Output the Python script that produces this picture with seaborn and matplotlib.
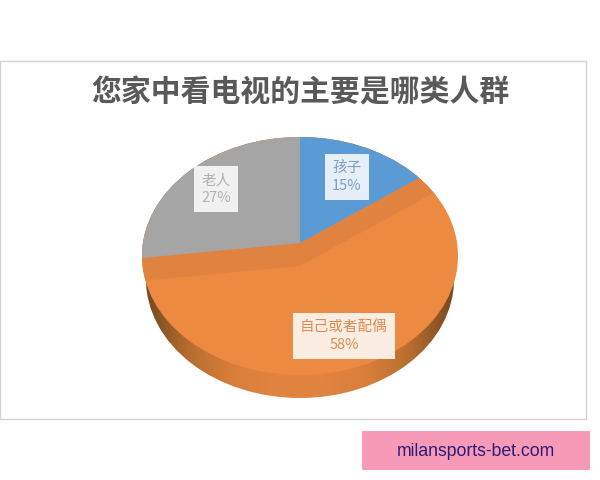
import numpy as np
import seaborn as sns
import matplotlib.pyplot as plt
from matplotlib.colors import LinearSegmentedColormap
from matplotlib.patches import Rectangle, Circle, Ellipse

sns.set_theme(style='white')
plt.rcParams['font.family'] = ['Noto Sans CJK SC', 'DejaVu Sans']

title = '您家中看电视的主要是哪类人群'
labels = ['孩子', '自己或者配偶', '老人']
shares = [15, 58, 27]
colors = ['#5b9bd5', '#ed8a42', '#a5a5a5']
text_colors = ['#7f9fc4', '#dd8d52', '#b0b0b0']
watermark = 'milansports-bet.com'

fig = plt.figure(figsize=(6, 4.8), dpi=100)

# background: chart frame and watermark box, in pixel coordinates
bg = fig.add_axes([0, 0, 1, 1], zorder=0)
bg.set_xlim(0, 600)
bg.set_ylim(480, 0)
bg.axis('off')
bg.add_patch(Rectangle((0, 61), 586, 358, fc='white', ec='#d4d4d4', lw=1))
bg.add_patch(Rectangle((362, 431), 228, 39, fc='#f79ab8', ec='none'))
bg.text(476, 451, watermark, ha='center', va='center', fontsize=12.7,
        color='#2c1c78', family='Liberation Sans')
bg.text(300, 92, title, ha='center', va='center', fontsize=21.5,
        color='#595959', fontweight='bold')

# pie axes: one unit is 158 px across and 119 px down, so the circle looks tilted
cx, cy, rx, ry = 300, 256, 158, 119
depth = 23 / ry
ax = fig.add_axes([0, 0, 1, 1], zorder=1)
ax.patch.set_visible(False)
face = Circle((0, 0), 1, transform=ax.transData)
rim_clip = Ellipse((0, -depth), 1.95, 2, transform=ax.transData)

# side wall, dark only towards both ends
rim_cmap = LinearSegmentedColormap.from_list(
    'rim', ['#6f4620', '#b56c2e', '#d97f3c', '#e0843f', '#e0843f',
            '#d97f3c', '#b56c2e', '#6f4620'])
rim = ax.imshow(np.linspace(0, 1, 256).reshape(1, -1), cmap=rim_cmap,
                extent=(-1, 1, -1.4, 0.3), aspect='auto', zorder=1)
rim.set_clip_path(rim_clip)

ax.add_patch(Circle((0, 0), 1, fc=colors[1], ec='none', zorder=2))

# vertex of the top slices sits above the middle of the ellipse
tip = 13 / ry
band, _ = ax.pie(shares, colors=['#e08340', 'none', '#e08340'], startangle=90,
                 counterclock=False, radius=1.7, center=(0, tip - depth),
                 wedgeprops={'linewidth': 0, 'zorder': 3})
wedges, _ = ax.pie(shares, colors=colors, startangle=90, counterclock=False,
                   radius=1.7, center=(0, tip),
                   wedgeprops={'linewidth': 0, 'zorder': 4})
wedges[1].set_visible(False)
# pie turns clipping off on its wedges
for w in list(band) + list(wedges):
    w.set_clip_on(True)
    w.set_clip_path(face)

ax.set_aspect('auto')
ax.set_xlim(-cx / rx, (600 - cx) / rx)
ax.set_ylim(-(480 - cy) / ry, cy / ry)
ax.axis('off')

# label boxes on top of the pie
top = fig.add_axes([0, 0, 1, 1], zorder=2)
top.patch.set_visible(False)
top.set_xlim(0, 600)
top.set_ylim(480, 0)
top.axis('off')
spots = [(347, 177), (344, 336), (216, 189)]
for name, share, tc, (x, y) in zip(labels, shares, text_colors, spots):
    top.text(x, y, f'{name}\n{share}%', ha='center', va='center', fontsize=10.5,
             color=tc, linespacing=1.3,
             bbox=dict(fc='white', ec='none', alpha=0.85, pad=5))

fig.savefig('out.png', dpi=100)
